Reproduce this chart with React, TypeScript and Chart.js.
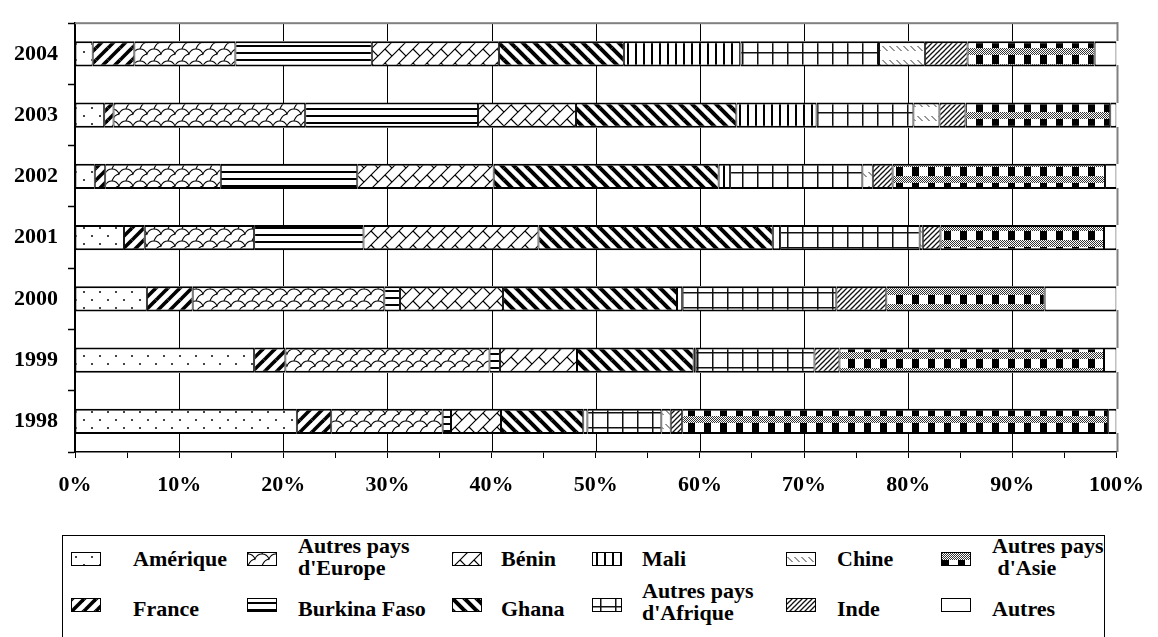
import React, { useEffect, useMemo, useRef } from 'react';
import { Chart, registerables } from 'chart.js';

Chart.register(...registerables);

const FONT_FAMILY = '"Liberation Serif", "Times New Roman", Times, serif';

// Years, drawn from bottom (1998) to top (2004)
const YEARS = ['1998', '1999', '2000', '2001', '2002', '2003', '2004'];

// Share of each origin per year, in % (same order as YEARS)
const AMERIQUE = [21.3, 17.2, 6.9, 4.7, 1.9, 2.8, 1.7];
const FRANCE = [3.3, 3.0, 4.4, 2.0, 1.0, 0.9, 4.0];
const AUTRES_EUROPE = [10.7, 19.6, 18.4, 10.5, 11.1, 18.4, 9.7];
const BURKINA_FASO = [0.8, 1.0, 1.5, 10.5, 13.1, 16.6, 13.1];
const BENIN = [4.8, 7.4, 9.9, 16.8, 13.1, 9.4, 12.2];
const GHANA = [7.9, 11.2, 16.7, 22.5, 21.6, 15.4, 12.0];
const MALI = [0.4, 0.2, 0.5, 0.7, 1.1, 7.7, 11.2];
const AUTRES_AFRIQUE = [7.1, 11.4, 14.8, 13.4, 12.7, 9.3, 13.3];
const CHINE = [0.9, 0, 0, 0.3, 1.0, 2.5, 4.4];
const INDE = [1.1, 2.4, 4.8, 1.7, 1.9, 2.5, 4.1];
const AUTRES_ASIE = [40.9, 25.4, 15.2, 15.7, 20.4, 13.9, 12.2];
const AUTRES = [0.8, 1.2, 6.9, 1.2, 1.1, 0.6, 2.1];

// Percentage axis: minor ticks every 5 %, labels and grid lines every 10 %
const PCT_MIN = 0;
const PCT_MAX = 100;
const PCT_STEP = 5;
const PCT_LABEL_EVERY = 10;

const SERIES = [
  { label: 'Amérique', legend: ['Amérique'], data: AMERIQUE, fill: 'dots' },
  { label: 'France', legend: ['France'], data: FRANCE, fill: 'wideUp' },
  { label: "Autres pays d'Europe", legend: ['Autres pays', "d'Europe"], data: AUTRES_EUROPE, fill: 'shingle' },
  { label: 'Burkina Faso', legend: ['Burkina Faso'], data: BURKINA_FASO, fill: 'horizontal' },
  { label: 'Bénin', legend: ['Bénin'], data: BENIN, fill: 'brick' },
  { label: 'Ghana', legend: ['Ghana'], data: GHANA, fill: 'wideDown' },
  { label: 'Mali', legend: ['Mali'], data: MALI, fill: 'vertical' },
  { label: "Autres pays d'Afrique", legend: ['Autres pays', "d'Afrique"], data: AUTRES_AFRIQUE, fill: 'grid' },
  { label: 'Chine', legend: ['Chine'], data: CHINE, fill: 'dashedDown' },
  { label: 'Inde', legend: ['Inde'], data: INDE, fill: 'narrowUp' },
  { label: "Autres pays d'Asie", legend: ['Autres pays', "\u00a0d'Asie"], data: AUTRES_ASIE, fill: 'weave' },
  { label: 'Autres', legend: ['Autres'], data: AUTRES, fill: 'plain' },
];

// Legend layout (6 columns x 2 rows)
const LEGEND_SWATCH_RIGHT = [101, 277, 482, 622, 816, 971];
const LEGEND_TEXT_LEFT = [133, 298, 501, 642, 837, 992];

type Ctx = CanvasRenderingContext2D;

function tile(w: number, h: number, paint: (c: Ctx) => void): HTMLCanvasElement {
  const cv = document.createElement('canvas');
  cv.width = w;
  cv.height = h;
  const c = cv.getContext('2d') as Ctx;
  c.fillStyle = '#fff';
  c.fillRect(0, 0, w, h);
  c.fillStyle = '#000';
  c.strokeStyle = '#000';
  paint(c);
  return cv;
}

// Stroke a path at every neighbouring offset so it wraps seamlessly
function wrap(c: Ctx, w: number, h: number, path: () => void) {
  for (const dx of [-w, 0, w]) {
    for (const dy of [-h, 0, h]) {
      c.save();
      c.translate(dx, dy);
      c.beginPath();
      path();
      c.stroke();
      c.restore();
    }
  }
}

const FILLS: Record<string, () => HTMLCanvasElement> = {
  dots: () =>
    tile(16, 16, (c) => {
      c.fillStyle = '#444';
      c.fillRect(3, 3, 2, 2);
      c.fillRect(11, 11, 2, 2);
    }),
  wideUp: () =>
    tile(12, 12, (c) => {
      c.lineWidth = 3.6;
      wrap(c, 12, 12, () => {
        c.moveTo(0, 12);
        c.lineTo(12, 0);
      });
    }),
  wideDown: () =>
    tile(12, 12, (c) => {
      c.lineWidth = 4;
      wrap(c, 12, 12, () => {
        c.moveTo(0, 0);
        c.lineTo(12, 12);
      });
    }),
  narrowUp: () =>
    tile(5, 5, (c) => {
      c.lineWidth = 1.3;
      c.strokeStyle = '#111';
      wrap(c, 5, 5, () => {
        c.moveTo(0, 5);
        c.lineTo(5, 0);
      });
    }),
  shingle: () =>
    tile(14, 12, (c) => {
      c.lineWidth = 1.1;
      wrap(c, 14, 12, () => {
        c.moveTo(0, 1);
        c.quadraticCurveTo(5, 1, 7, 6);
        c.quadraticCurveTo(9, 1, 14, 1);
        c.moveTo(7, 6);
        c.quadraticCurveTo(2, 7, 0, 13);
      });
    }),
  brick: () =>
    tile(14, 14, (c) => {
      c.lineWidth = 1.2;
      wrap(c, 14, 14, () => {
        c.moveTo(14, 0);
        c.lineTo(0, 14);
        c.moveTo(7, 7);
        c.lineTo(14, 14);
      });
    }),
  horizontal: () =>
    tile(8, 7, (c) => {
      c.fillRect(0, 3, 8, 2);
    }),
  vertical: () =>
    tile(8, 8, (c) => {
      c.fillRect(3, 0, 2, 8);
    }),
  grid: () =>
    tile(15, 15, (c) => {
      c.fillStyle = '#111';
      c.fillRect(7, 0, 1.5, 15);
      c.fillRect(0, 7, 15, 1.5);
    }),
  dashedDown: () =>
    tile(7, 14, (c) => {
      c.lineWidth = 1;
      c.strokeStyle = '#333';
      c.beginPath();
      c.moveTo(0.5, 4);
      c.lineTo(5.5, 9);
      c.stroke();
    }),
  weave: () =>
    tile(16, 16, (c) => {
      c.fillStyle = '#333';
      for (let y = 0; y < 7; y++) {
        for (let x = 0; x < 16; x++) {
          if ((x + y) % 2 === 0) c.fillRect(x, y, 1, 1);
        }
      }
      c.fillStyle = '#000';
      c.fillRect(0, 7, 7, 9);
    }),
  plain: () => tile(4, 4, () => {}),
};

// Vertical grid lines every 10 % (in the gaps between bars) and a grey frame on the top and right
const plotFrame = {
  id: 'plotFrame',
  afterDatasetsDraw(chart: any) {
    const ctx: Ctx = chart.ctx;
    const a = chart.chartArea;

    const spans: number[][] = chart
      .getDatasetMeta(0)
      .data.map((el: any) => {
        const p = el.getProps(['y', 'height'], true);
        return [p.y - p.height / 2, p.y + p.height / 2];
      })
      .sort((p: number[], q: number[]) => p[0] - q[0]);
    const gaps: number[][] = [];
    let edge = a.top;
    for (const [t, b] of spans) {
      if (t > edge) gaps.push([edge, t]);
      edge = Math.max(edge, b);
    }
    if (edge < a.bottom) gaps.push([edge, a.bottom]);

    ctx.save();
    ctx.fillStyle = '#000';
    const span = a.right - a.left;
    for (let v = PCT_MIN + PCT_LABEL_EVERY; v < PCT_MAX; v += PCT_LABEL_EVERY) {
      const px = Math.round(a.left + ((v - PCT_MIN) / (PCT_MAX - PCT_MIN)) * span);
      for (const [g0, g1] of gaps) {
        const y0 = Math.round(g0);
        const y1 = Math.round(g1);
        if (y1 > y0) ctx.fillRect(px, y0, 1, y1 - y0);
      }
    }
    ctx.fillStyle = '#808080';
    ctx.fillRect(a.left, a.top - 1, span + 1, 2);
    for (const [g0, g1] of gaps) {
      const y0 = Math.round(g0);
      const y1 = Math.round(g1);
      if (y1 > y0) ctx.fillRect(a.right, y0 - 1, 2, y1 - y0 + 1);
    }
    ctx.restore();
  },
};

export default function App() {
  const canvasRef = useRef<HTMLCanvasElement>(null);
  const tiles = useMemo(() => SERIES.map((s) => FILLS[s.fill]()), []);
  const urls = useMemo(() => tiles.map((t) => t.toDataURL()), [tiles]);

  useEffect(() => {
    const cv = canvasRef.current as HTMLCanvasElement;
    const ctx = cv.getContext('2d') as Ctx;
    const font = { family: FONT_FAMILY, size: 22, weight: 'bold' as const };

    const datasets = SERIES.map((s, i) => ({
      label: s.label,
      data: s.data,
      backgroundColor: ctx.createPattern(tiles[i], 'repeat') as any,
      borderColor: '#000',
      borderWidth: { top: 2, bottom: 2, left: 1, right: 1 },
      borderSkipped: false,
      barPercentage: 0.41,
      categoryPercentage: 1,
    }));

    const chart = new Chart(cv, {
      type: 'bar',
      data: { labels: YEARS, datasets },
      options: {
        indexAxis: 'y',
        animation: false,
        responsive: false,
        devicePixelRatio: 1,
        layout: { padding: { top: 12, right: 21, bottom: 0, left: 0 } },
        plugins: { legend: { display: false }, tooltip: { enabled: false } },
        scales: {
          x: {
            stacked: true,
            min: PCT_MIN,
            max: PCT_MAX,
            afterFit: (s: any) => {
              s.height = 68;
            },
            grid: {
              drawOnChartArea: false,
              drawTicks: true,
              tickLength: 6,
              tickColor: '#000',
              tickWidth: 1,
            },
            border: { display: true, color: '#000', width: 1.5 },
            ticks: {
              stepSize: PCT_STEP,
              autoSkip: false,
              maxRotation: 0,
              minRotation: 0,
              padding: 14,
              color: '#000',
              font,
              callback: (v: any) => (Number(v) % PCT_LABEL_EVERY === 0 ? `${v}%` : ''),
            },
          },
          y: {
            stacked: true,
            reverse: true,
            afterFit: (s: any) => {
              s.width = 75;
            },
            grid: {
              drawOnChartArea: false,
              drawTicks: true,
              tickLength: 7,
              tickColor: '#000',
              tickWidth: 1.5,
              offset: true,
            },
            border: { display: true, color: '#000', width: 2 },
            ticks: { padding: 10, color: '#000', font },
          },
        },
      } as any,
      plugins: [plotFrame],
    });
    return () => chart.destroy();
  }, [tiles]);

  const textStyle: React.CSSProperties = {
    position: 'absolute',
    font: `bold 22px ${FONT_FAMILY}`,
    lineHeight: '22px',
    color: '#000',
    whiteSpace: 'pre',
  };

  return (
    <div style={{ position: 'absolute', left: 0, top: 0, width: 1158, height: 637, overflow: 'hidden', background: '#fff' }}>
      <canvas ref={canvasRef} width={1158} height={520} style={{ position: 'absolute', left: 0, top: 0, display: 'block' }} />
      <div
        style={{
          position: 'absolute',
          left: 62,
          top: 535,
          width: 1043,
          height: 130,
          border: '1px solid #000',
          boxSizing: 'border-box',
        }}
      />
      {SERIES.map((s, i) => {
        const col = Math.floor(i / 2);
        const row = i % 2;
        const twoLines = s.legend.length > 1;
        const textTop = row === 0 ? (twoLines ? 535 : 548) : twoLines ? 580 : 598;
        const swatchTop = row === 0 ? 552 : 598;
        return (
          <React.Fragment key={s.label}>
            <div
              style={{
                position: 'absolute',
                left: LEGEND_SWATCH_RIGHT[col] - 30,
                top: swatchTop,
                width: 30,
                height: 14,
                border: '1px solid #000',
                boxSizing: 'border-box',
                backgroundColor: '#fff',
                backgroundImage: `url(${urls[i]})`,
              }}
            />
            <div style={{ ...textStyle, left: LEGEND_TEXT_LEFT[col], top: textTop }}>{s.legend.join('\n')}</div>
          </React.Fragment>
        );
      })}
    </div>
  );
}
